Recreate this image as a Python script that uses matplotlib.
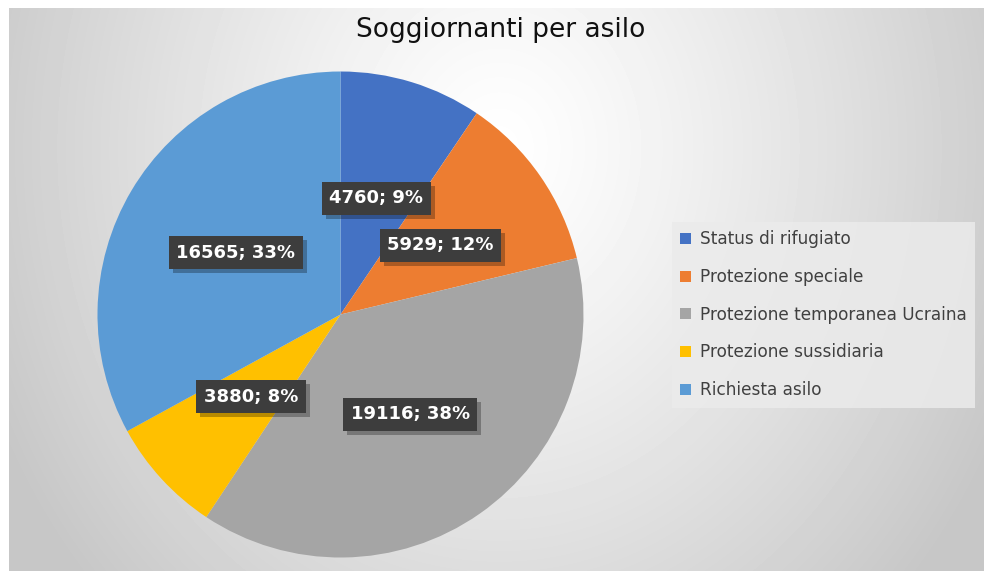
import numpy as np
import matplotlib
matplotlib.use('Agg')
import matplotlib.pyplot as plt
from matplotlib import patheffects

# data
categories = ['Status di rifugiato', 'Protezione speciale', 'Protezione temporanea Ucraina',
              'Protezione sussidiaria', 'Richiesta asilo']
values = [4760, 5929, 19116, 3880, 16565]
colors = ['#4472C4', '#ED7D31', '#A5A5A5', '#FFC000', '#5B9BD5']
title = 'Soggiornanti per asilo'

plt.rcParams['font.family'] = 'DejaVu Sans'

W, H = 984, 571
fig = plt.figure(figsize=(W / 100, H / 100), dpi=100)
fig.patch.set_facecolor('white')

# chart area background: soft radial gradient
bg = fig.add_axes([9 / W, 0, 1 - 9 / W, 1 - 8 / H])
bg.set_axis_off()
yy, xx = np.mgrid[0:H - 8, 0:W - 9]
dx = (xx - 490) / 490
dy = (yy - 140) / 571
r = np.sqrt(dx ** 2 + dy ** 2)
shade = np.clip(1 - 0.19 * r ** 1.2, 0.78, 1.0)
bg.imshow(shade, cmap='gray', vmin=0, vmax=1, aspect='auto', interpolation='bilinear')

# pie
cx, cy, R = 340.5, 571 - 314.5, 243
ax = fig.add_axes([(cx - R) / W, (cy - R) / H, 2 * R / W, 2 * R / H])
total = sum(values)


def fmt(pct):
    v = int(round(pct * total / 100))
    return f'{v}; {pct:.0f}%'


wedges, texts, autotexts = ax.pie(values, colors=colors, startangle=90, counterclock=False,
                                  autopct=fmt, pctdistance=0.5,
                                  wedgeprops=dict(linewidth=0))
ax.set_xlim(-1, 1)
ax.set_ylim(-1, 1)
ax.set_aspect('equal')

for t in autotexts:
    t.set_fontsize(13)
    t.set_fontweight('bold')
    t.set_color('white')
    t.set_zorder(5)
    t.set_bbox(dict(boxstyle='square,pad=0.42', facecolor='#3d3d3d', edgecolor='none'))
    # soft drop shadow on the label box
    t.get_bbox_patch().set_path_effects([
        patheffects.SimplePatchShadow(offset=(3, -3), shadow_rgbFace='black', alpha=0.28),
        patheffects.Normal()])

fig.text(501 / W, 1 - 30 / H, title, ha='center', va='center', fontsize=19, color='#111111')

leg = fig.legend(wedges, categories, loc='upper left', bbox_to_anchor=(672 / W, 1 - 222 / H),
                 frameon=True, fancybox=False, fontsize=12.2, labelcolor='#404040',
                 handlelength=0.6, handleheight=0.6, handletextpad=0.55,
                 labelspacing=1.16, borderpad=0.5, borderaxespad=0)
frame = leg.get_frame()
frame.set_facecolor('#ebebeb')
frame.set_alpha(0.85)
frame.set_edgecolor('none')

fig.savefig('out.png', dpi=100)
